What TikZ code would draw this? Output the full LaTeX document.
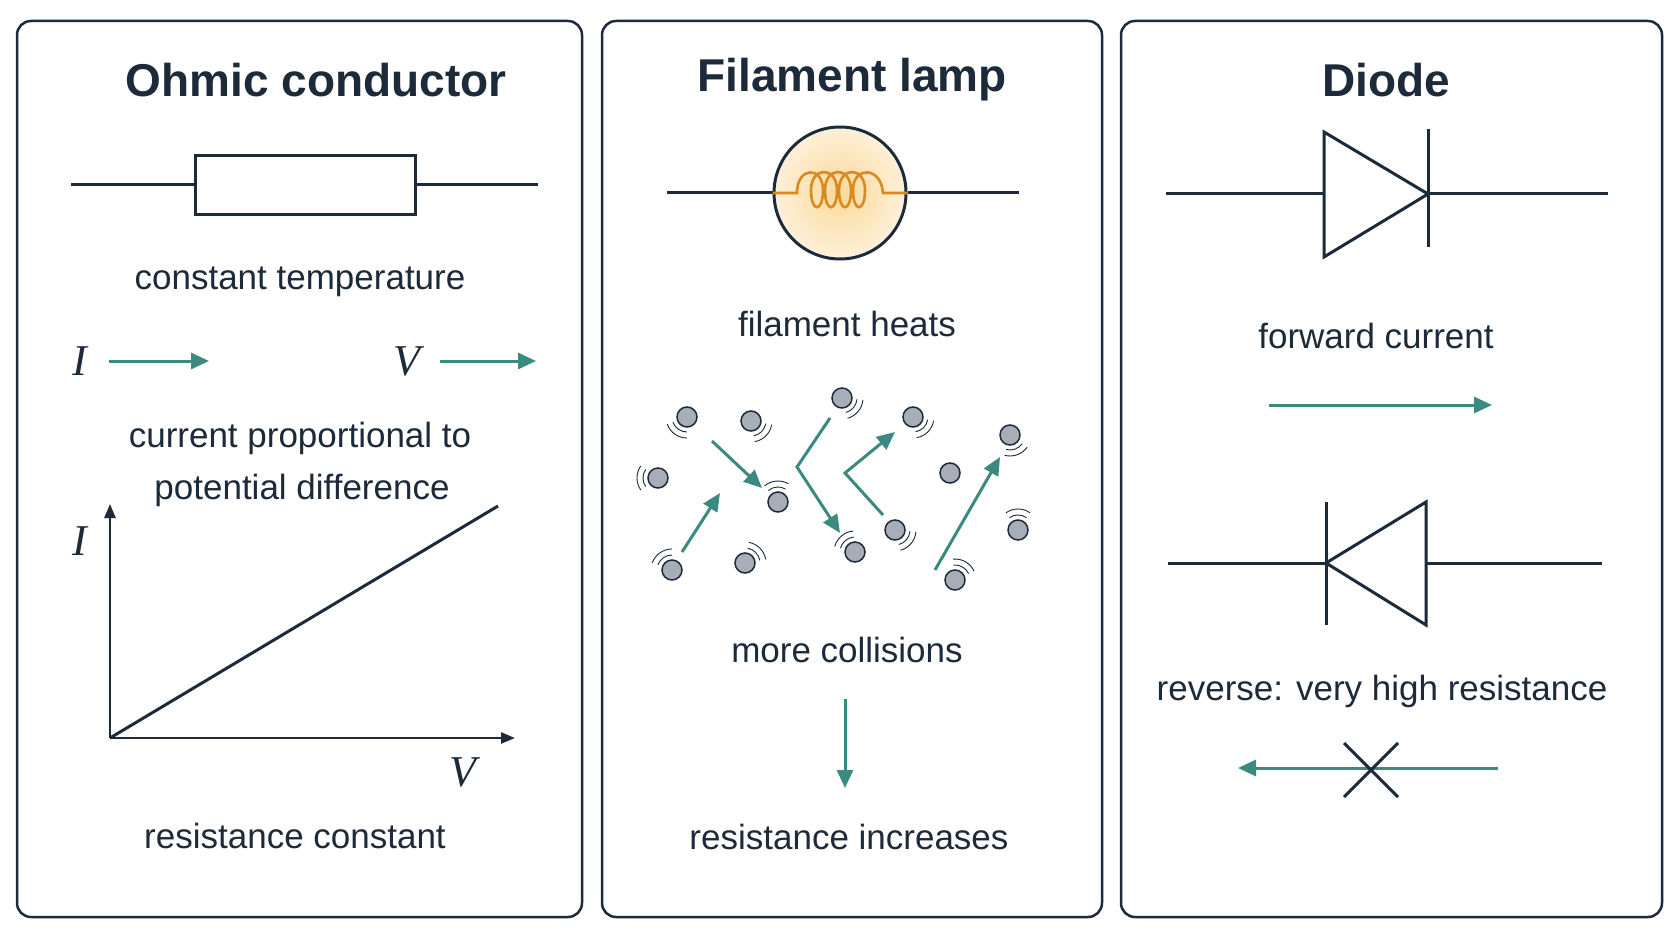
\documentclass[tikz,border=0pt]{standalone}
\usepackage{fontspec}
\setmainfont{Liberation Sans}
\newfontfamily\serifit{Liberation Serif}
\usetikzlibrary{arrows.meta}
\definecolor{ink}{HTML}{1C2A3A}
\definecolor{teal}{HTML}{3A8A80}
\definecolor{glow}{HTML}{FBD89A}
\definecolor{coil}{HTML}{D98A1E}
\definecolor{ptc}{HTML}{A7AEB8}
\begin{document}
\begin{tikzpicture}[x=1pt,y=-1pt,
  panel/.style={draw=ink,line width=2.5pt,rounded corners=14pt},
  title/.style={font=\fontsize{46}{50}\selectfont\bfseries,text=ink},
  lbl/.style={font=\fontsize{35}{40}\selectfont,text=ink},
  var/.style={font=\fontsize{44}{48}\selectfont\serifit\itshape,text=ink},
  wire/.style={draw=ink,line width=3pt},
  tarr/.style={draw=teal,line width=3pt,-{Triangle[length=18pt,width=16pt]}},
  part/.style={circle,draw=ink,line width=1.5pt,fill=ptc,minimum size=20pt,inner sep=0pt},
  wave/.style={draw=ink,line width=0.9pt}]
\useasboundingbox (0,0) rectangle (1672,941);
\fill[white] (0,0) rectangle (1672,941);
% panels
\node[panel,minimum width=565pt,minimum height=896pt] (p1) at (299.5,469) {};
\node[panel,minimum width=500pt,minimum height=896pt] (p2) at (852,469) {};
\node[panel,minimum width=541pt,minimum height=896pt] (p3) at (1391.5,469) {};
\node[title] (t1) at (316,80) {Ohmic conductor};
\node[title] (t2) at (852,80) {Filament lamp};
\node[title] (t3) at (1386,80) {Diode};
% resistor
\coordinate (r1) at (71,185); \coordinate (r2) at (538,185);
\node[draw=ink,line width=3pt,minimum width=220pt,minimum height=59pt,inner sep=0pt] (res) at (305,185) {};
\draw[wire] (r1) -- (res.west); \draw[wire] (res.east) -- (r2);
\node[lbl] (ct) at (300,282) {constant temperature};
\node[var] (iv) at (80,361) {I};
\coordinate (ia1) at (109,361); \coordinate (ia2) at (209,361);
\draw[tarr] (ia1) -- (ia2);
\node[var] (vv) at (407,361) {V};
\coordinate (va1) at (440,361); \coordinate (va2) at (536,361);
\draw[tarr] (va1) -- (va2);
\node[lbl] (cp) at (300,438) {current proportional to};
\node[lbl] (pd) at (302,490) {potential difference};
\coordinate (o) at (110,738); \coordinate (yt) at (110,504); \coordinate (xt) at (515,738);
\coordinate (le) at (498,506);
\draw[draw=ink,line width=2.5pt,-{Triangle[length=14pt,width=11pt]}] (o) -- (yt);
\draw[draw=ink,line width=2.5pt,-{Triangle[length=14pt,width=11pt]}] (o) -- (xt);
\draw[draw=ink,line width=3pt] (o) -- (le);
\node[var] (gi) at (80,541) {I};
\node[var] (gv) at (463,772) {V};
\node[lbl] (rc) at (295,836) {resistance constant};
% lamp
\coordinate (l1) at (667,193); \coordinate (l2) at (1019,193);
\shade[inner color=glow,outer color=glow!40] (840,193) circle (64);
\node[circle,draw=ink,line width=3pt,minimum size=132pt,inner sep=0pt] (lamp) at (840,193) {};
\draw[wire] (l1) -- (lamp.west); \draw[wire] (lamp.east) -- (l2);
\draw[coil,line width=2.6pt] (lamp.west) -- (797,193)
  .. controls (797,166) and (823,166) .. (823,190) .. controls (823,213) and (811,213) .. (811,190)
  .. controls (811,166) and (837,166) .. (837,190) .. controls (837,213) and (825,213) .. (825,190)
  .. controls (825,166) and (851,166) .. (851,190) .. controls (851,213) and (839,213) .. (839,190)
  .. controls (839,166) and (865,166) .. (865,190) .. controls (865,213) and (853,213) .. (853,190)
  .. controls (853,166) and (881,166) .. (883,193) -- (lamp.east);
\node[lbl] (fh) at (847,324) {filament heats};
% particles with vibration marks
\foreach \n/\x/\y/\a in {1/687/417/125,2/751/421/45,3/842/398/40,4/913/417/45,5/1010/435/70,6/658/478/180,7/778/502/-95,9/895/530/40,10/855/552/230,11/1018/530/-90,12/672/570/235,13/745/563/-45,14/955/580/-60}{
  \node[part] (q\n) at (\x,\y) {};
  \draw[wave] ([shift={(\a-35:15)}]\x,\y) arc[start angle=\a-35,end angle=\a+35,radius=15];
  \draw[wave] ([shift={(\a-35:21)}]\x,\y) arc[start angle=\a-35,end angle=\a+35,radius=21];
}
\node[part] (q8) at (950,473) {};
\coordinate (a1) at (712,441); \coordinate (a2) at (762,488);
\coordinate (b1) at (682,552); \coordinate (b2) at (720,493);
\coordinate (c1) at (830,418); \coordinate (c2) at (797,467); \coordinate (c3) at (840,533);
\coordinate (d1) at (883,515); \coordinate (d2) at (845,473); \coordinate (d3) at (895,432);
\coordinate (e1) at (935,570); \coordinate (e2) at (1000,457);
\draw[tarr] (a1) -- (a2);
\draw[tarr] (b1) -- (b2);
\draw[tarr] (c1) -- (c2) -- (c3);
\draw[tarr] (d1) -- (d2) -- (d3);
\draw[tarr] (e1) -- (e2);
\node[lbl] (mc) at (847,650) {more collisions};
\coordinate (m1) at (845,699); \coordinate (m2) at (845,788);
\draw[tarr] (m1) -- (m2);
\node[lbl] (ri) at (849,837) {resistance increases};
% diode forward
\coordinate (f1) at (1166,194); \coordinate (f2) at (1608,194);
\coordinate (fa) at (1324,132); \coordinate (fb) at (1324,257); \coordinate (ft) at (1428,194);
\coordinate (fbt) at (1428,129); \coordinate (fbb) at (1428,247);
\draw[wire] (f1) -- (1324,194); \draw[wire] (ft) -- (f2);
\draw[wire,line join=miter] (fa) -- (ft) -- (fb) -- cycle;
\draw[wire] (fbt) -- (fbb);
\node[lbl] (fc) at (1376,336) {forward current};
\coordinate (fr1) at (1269,405); \coordinate (fr2) at (1492,405);
\draw[tarr] (fr1) -- (fr2);
% diode reverse
\coordinate (g1) at (1168,563); \coordinate (g2) at (1602,563);
\coordinate (ga) at (1426,502); \coordinate (gb) at (1426,625); \coordinate (gt) at (1326,563);
\coordinate (gbt) at (1326,502); \coordinate (gbb) at (1326,625);
\draw[wire] (g1) -- (gt); \draw[wire] (1426,563) -- (g2);
\draw[wire,line join=miter] (ga) -- (gt) -- (gb) -- cycle;
\draw[wire] (gbt) -- (gbb);
\node[lbl] (rv) at (1382,691) {reverse: very high resistance};
\coordinate (rr1) at (1498,768); \coordinate (rr2) at (1238,768);
\draw[tarr] (rr1) -- (rr2);
\coordinate (x1) at (1344,743); \coordinate (x2) at (1398,797);
\coordinate (x3) at (1344,797); \coordinate (x4) at (1398,743);
\draw[wire] (x1) -- (x2); \draw[wire] (x3) -- (x4);
\end{tikzpicture}
\end{document}
